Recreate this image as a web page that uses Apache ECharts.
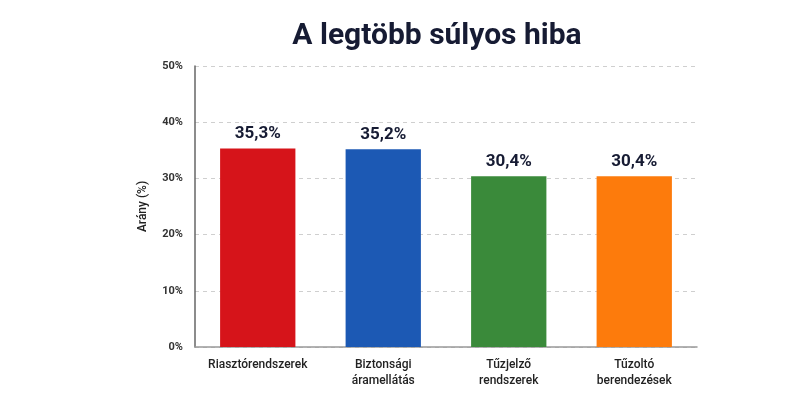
<!DOCTYPE html>
<html>
<head>
<meta charset="utf-8">
<script src="https://cdn.jsdelivr.net/npm/echarts@6/dist/echarts.min.js"></script>
<style>
html,body{margin:0;padding:0;background:#fff;}
#c{width:800px;height:414px;}
</style>
</head>
<body>
<div id="c"></div>
<script>
const categories = ['Riasztórendszerek', 'Biztonsági\náramellátás', 'Tűzjelző\nrendszerek', 'Tűzoltó\nberendezések'];
const values = [35.3, 35.2, 30.4, 30.4];
const barColors = ['#d6141a', '#1c59b4', '#3a8a3a', '#fd7b0c'];
const yTicks = [0, 10, 20, 30, 40, 50];

const chart = echarts.init(document.getElementById('c'), null, {renderer: 'canvas'});
chart.setOption({
  backgroundColor: '#ffffff',
  animation: false,
  textStyle: {fontFamily: 'Roboto, Inter, sans-serif'},
  title: {
    text: 'A legtöbb súlyos hiba',
    left: 432,
    textAlign: 'center',
    top: 16,
    textStyle: {fontSize: 30, fontWeight: 'bold', color: '#161b33', fontFamily: 'Roboto, Inter, sans-serif'}
  },
  grid: {left: 195, right: 103, top: 66, bottom: 67, containLabel: false},
  xAxis: {
    type: 'category',
    data: categories,
    axisLine: {show: true, lineStyle: {color: '#999', width: 1.5}},
    axisTick: {show: false},
    axisLabel: {
      interval: 0, margin: 10, color: '#222', fontSize: 12, fontWeight: 500, lineHeight: 16,
      fontFamily: 'Roboto, Inter, sans-serif'
    }
  },
  yAxis: {
    type: 'value',
    min: yTicks[0],
    max: yTicks[yTicks.length - 1],
    interval: 10,
    name: 'Arány (%)',
    nameLocation: 'middle',
    nameGap: 46,
    nameRotate: 90,
    nameTextStyle: {fontSize: 12, fontWeight: 500, color: '#222', fontFamily: 'Roboto, Inter, sans-serif'},
    axisLine: {show: true, lineStyle: {color: '#666', width: 1.5}},
    axisTick: {show: false},
    axisLabel: {
      formatter: v => v + '%', color: '#333', fontSize: 11, fontWeight: 'bold', margin: 12,
      fontFamily: 'Roboto, Inter, sans-serif'
    },
    splitLine: {show: true, lineStyle: {type: [4, 4], color: '#cfcfcf', width: 1}}
  },
  series: [{
    type: 'bar',
    data: values.map((v, i) => ({value: v, itemStyle: {color: barColors[i]}})),
    barWidth: '60%',
    label: {
      show: true,
      position: 'top',
      distance: 6,
      formatter: p => p.value.toFixed(1).replace('.', ',') + '%',
      fontSize: 17,
      fontWeight: 'bold',
      color: '#161b33',
      fontFamily: 'Roboto, Inter, sans-serif'
    }
  }]
});
</script>
</body>
</html>
